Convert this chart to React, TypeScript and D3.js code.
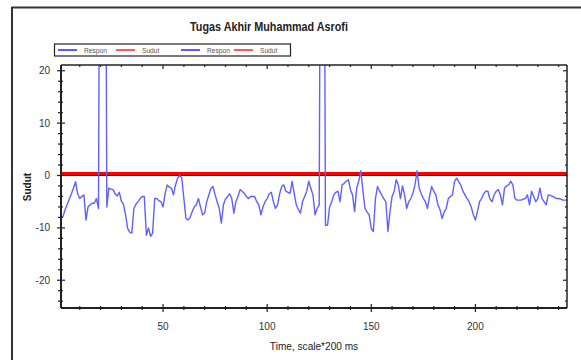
import React from 'react';
import * as d3 from 'd3';

// Respon sampled once per time step (t = 1..244), spikes run off the top of the plot
const respon: number[] = [
    -8.2, -7.8, -6.5, -5.5, -4.5, -3.5, -2.4, -1.2, -3.5, -4.4,
    -4, -3.7, -8.5, -6, -5.6, -5.3, -5.3, -4.4, -6.3, 100,
    100, 100, -6, -2.4, -2.6, -2.7, -3.5, -3.9, -3.2, -4.9,
    -5.5, -7.5, -10.1, -10.8, -11, -6.3, -5.5, -5, -4.4, -4,
    -4, -11.4, -10, -11.6, -11, -4.4, -4.4, -4.8, -5, -6,
    -3.5, -1.8, -2.2, -2.4, -3.7, -1.8, -0.5, 0.1, -0.5, -4.4,
    -8.2, -8.5, -8, -6.9, -6, -5.6, -4.4, -6, -7.5, -7.2,
    -5, -3.7, -2.5, -2.1, -3.7, -5, -6.3, -9.1, -5.6, -4.5,
    -4, -3.5, -4.4, -7.2, -5, -4, -2.7, -3, -3.4, -4,
    -4.4, -4, -4, -4, -5, -5.6, -7.5, -6, -5, -4.4,
    -3.5, -3.2, -5, -6.3, -5.6, -3.5, -2.1, -1.8, -3, -3.2,
    -3.4, -1.1, -3.5, -5.6, -6.5, -7.2, -5, -4, -3, -1.1,
    -2.5, -3.7, -7.5, -6.3, -5.6, 100, 100, -9.5, -9.5, -6,
    -5, -3.7, -3.2, -3, -5, -1.8, -1.5, -1.1, -0.8, -2.7,
    -3.7, -6.9, -2.4, -1.1, 0.9, -3, -6.3, -7, -7.5, -10.1,
    -10.7, -4.4, -2.1, -3, -3.7, -4.4, -5, -10.7, -6.9, -4,
    -3, -0.8, -1.8, -4.4, -2, -3.7, -6.3, -5, -4.4, -3.4,
    -1.8, 0.9, -2.4, -3.5, -4.4, -5, -6.3, -4, -2.1, -3,
    -3.7, -5.6, -6.5, -8.2, -7, -6.3, -4.4, -4, -3.7, -1.1,
    -0.5, -1.2, -1.8, -3, -3.7, -4.4, -5, -6, -7.5, -8.5,
    -6.9, -5, -4.4, -3.5, -3, -3, -4.5, -5, -3.7, -3,
    -2.7, -3.7, -5.6, -2.4, -2, -1.8, -1.1, -1.8, -4.4, -4.7,
    -4.7, -4.7, -4.5, -4.4, -3.7, -5.6, -3, -4, -5, -4.4,
    -2.4, -4.4, -5, -5.6, -3.7, -3.8, -4, -4.2, -4.4, -4.4,
    -4.5, -4.7, -4.7, -4.7,
];
const sudutTime = [1, 244];
const sudutValues = [0.3, 0.3];

const xTickLabels = [50, 100, 150, 200];
const yTickLabels = [-20, -10, 0, 10, 20];
const legendItems = [
    { label: 'Respon', color: '#0000ff' },
    { label: 'Sudut', color: '#ff0000' },
    { label: 'Respon', color: '#0000ff' },
    { label: 'Sudut', color: '#ff0000' },
];

const W = 581;
const H = 360;
const M = { left: 61, top: 65, right: 567, bottom: 308 };
const font = '"Liberation Sans", Arial, sans-serif';

// no narrow font installed, so squeeze text horizontally around its anchor
const narrow = (cx: number, cy: number, k = 0.88) =>
    `translate(${cx},${cy}) scale(${k},1)`;

export default function App() {
    const x = d3.scaleLinear().domain([1, 244]).range([M.left, M.right]);
    const y = d3.scaleLinear().domain([-25.3, 21.1]).range([M.bottom, M.top]);

    const line = d3
        .line<number>()
        .x((_, i) => x(i + 1))
        .y((d) => y(d));
    const sudutLine = d3
        .line<number>()
        .x((_, i) => x(sudutTime[i]))
        .y((d) => y(d));

    const xMinor = d3.range(10, 245, 10);
    const yMinor = d3.range(-24, 21, 2);
    const axisColor = '#222';

    const legendX = [58, 116, 181, 234];

    return (
        <svg
            width={W}
            height={H}
            style={{ position: 'absolute', left: 0, top: 0, background: '#fff' }}
        >
            <defs>
                <clipPath id="plot">
                    <rect x={M.left} y={M.top} width={M.right - M.left} height={M.bottom - M.top} />
                </clipPath>
            </defs>
            {/* outer frame */}
            <rect x={12} y={7.5} width={640} height={400} fill="none" stroke="#333" strokeWidth={2} />

            <text
                transform={narrow(269, 31, 0.9)}
                textAnchor="middle"
                fontFamily={font}
                fontWeight="bold"
                fontSize={12}
                fill="#222"
            >
                Tugas Akhir Muhammad Asrofi
            </text>

            {/* legend */}
            <rect x={54.5} y={44} width={236} height={12} fill="#fff" stroke="#222" strokeWidth={1.2} />
            {legendItems.map((d, i) => (
                <g key={i}>
                    <line
                        x1={legendX[i]}
                        x2={legendX[i] + 19}
                        y1={50}
                        y2={50}
                        stroke={d.color}
                        strokeWidth={1.3}
                    />
                    <text
                        transform={narrow(legendX[i] + 26, 52.5, 0.95)}
                        fontFamily={font}
                        fontSize={7}
                        fill="#555"
                    >
                        {d.label}
                    </text>
                </g>
            ))}

            {/* data */}
            <g clipPath="url(#plot)">
                <path
                    d={sudutLine(sudutValues) || ''}
                    fill="none"
                    stroke="#ff0000"
                    strokeWidth={4}
                />
                <line x1={M.left} x2={M.right} y1={y(0)} y2={y(0)} stroke="#000" strokeWidth={1.2} />
                <path
                    d={line(respon) || ''}
                    fill="none"
                    stroke="#6060ff"
                    strokeWidth={1.4}
                    strokeLinejoin="round"
                />
            </g>

            {/* axes frame */}
            <line x1={M.left} x2={M.right} y1={M.top} y2={M.top} stroke={axisColor} strokeWidth={1.5} />
            <line x1={M.right} x2={M.right} y1={M.top} y2={M.bottom} stroke={axisColor} strokeWidth={1.5} />
            <line x1={M.left} x2={M.left} y1={M.top} y2={M.bottom} stroke={axisColor} strokeWidth={2} />
            <line x1={M.left} x2={M.right} y1={M.bottom} y2={M.bottom} stroke={axisColor} strokeWidth={2} />

            {/* x ticks */}
            {xMinor.map((v) => {
                const major = v % 50 === 0;
                return (
                    <g key={'x' + v}>
                        <line
                            x1={x(v)}
                            x2={x(v)}
                            y1={M.bottom - (major ? 4 : 2)}
                            y2={M.bottom + (major ? 4 : 2)}
                            stroke={axisColor}
                            strokeWidth={1.2}
                        />
                        <line
                            x1={x(v)}
                            x2={x(v)}
                            y1={M.top}
                            y2={M.top + (major ? 4 : 2)}
                            stroke={axisColor}
                            strokeWidth={1.2}
                        />
                    </g>
                );
            })}
            {xTickLabels.map((v) => (
                <text
                    key={'xl' + v}
                    x={x(v)}
                    y={330}
                    textAnchor="middle"
                    fontFamily={font}
                    fontSize={10}
                    fill="#333"
                >
                    {v}
                </text>
            ))}

            {/* y ticks */}
            {yMinor.map((v) => {
                const major = v % 10 === 0;
                return (
                    <g key={'y' + v}>
                        <line
                            x1={M.left - (major ? 4 : 3)}
                            x2={M.left + (major ? 4 : 2)}
                            y1={y(v)}
                            y2={y(v)}
                            stroke={axisColor}
                            strokeWidth={1.2}
                        />
                        <line
                            x1={M.right - (major ? 4 : 2)}
                            x2={M.right}
                            y1={y(v)}
                            y2={y(v)}
                            stroke={axisColor}
                            strokeWidth={1.2}
                        />
                    </g>
                );
            })}
            {yTickLabels.map((v) => (
                <text
                    key={'yl' + v}
                    x={50}
                    y={y(v)}
                    dy="0.35em"
                    textAnchor="end"
                    fontFamily={font}
                    fontSize={10}
                    fill="#333"
                >
                    {v}
                </text>
            ))}

            {/* axis titles */}
            <text
                transform="translate(27,187) rotate(-90)"
                textAnchor="middle"
                dy="0.35em"
                fontFamily={font}
                fontWeight="bold"
                fontSize={10}
                fill="#222"
            >
                Sudut
            </text>
            <text
                transform={narrow(314, 350, 0.92)}
                textAnchor="middle"
                fontFamily={font}
                fontSize={11}
                fill="#222"
            >
                Time, scale*200 ms
            </text>
        </svg>
    );
}
